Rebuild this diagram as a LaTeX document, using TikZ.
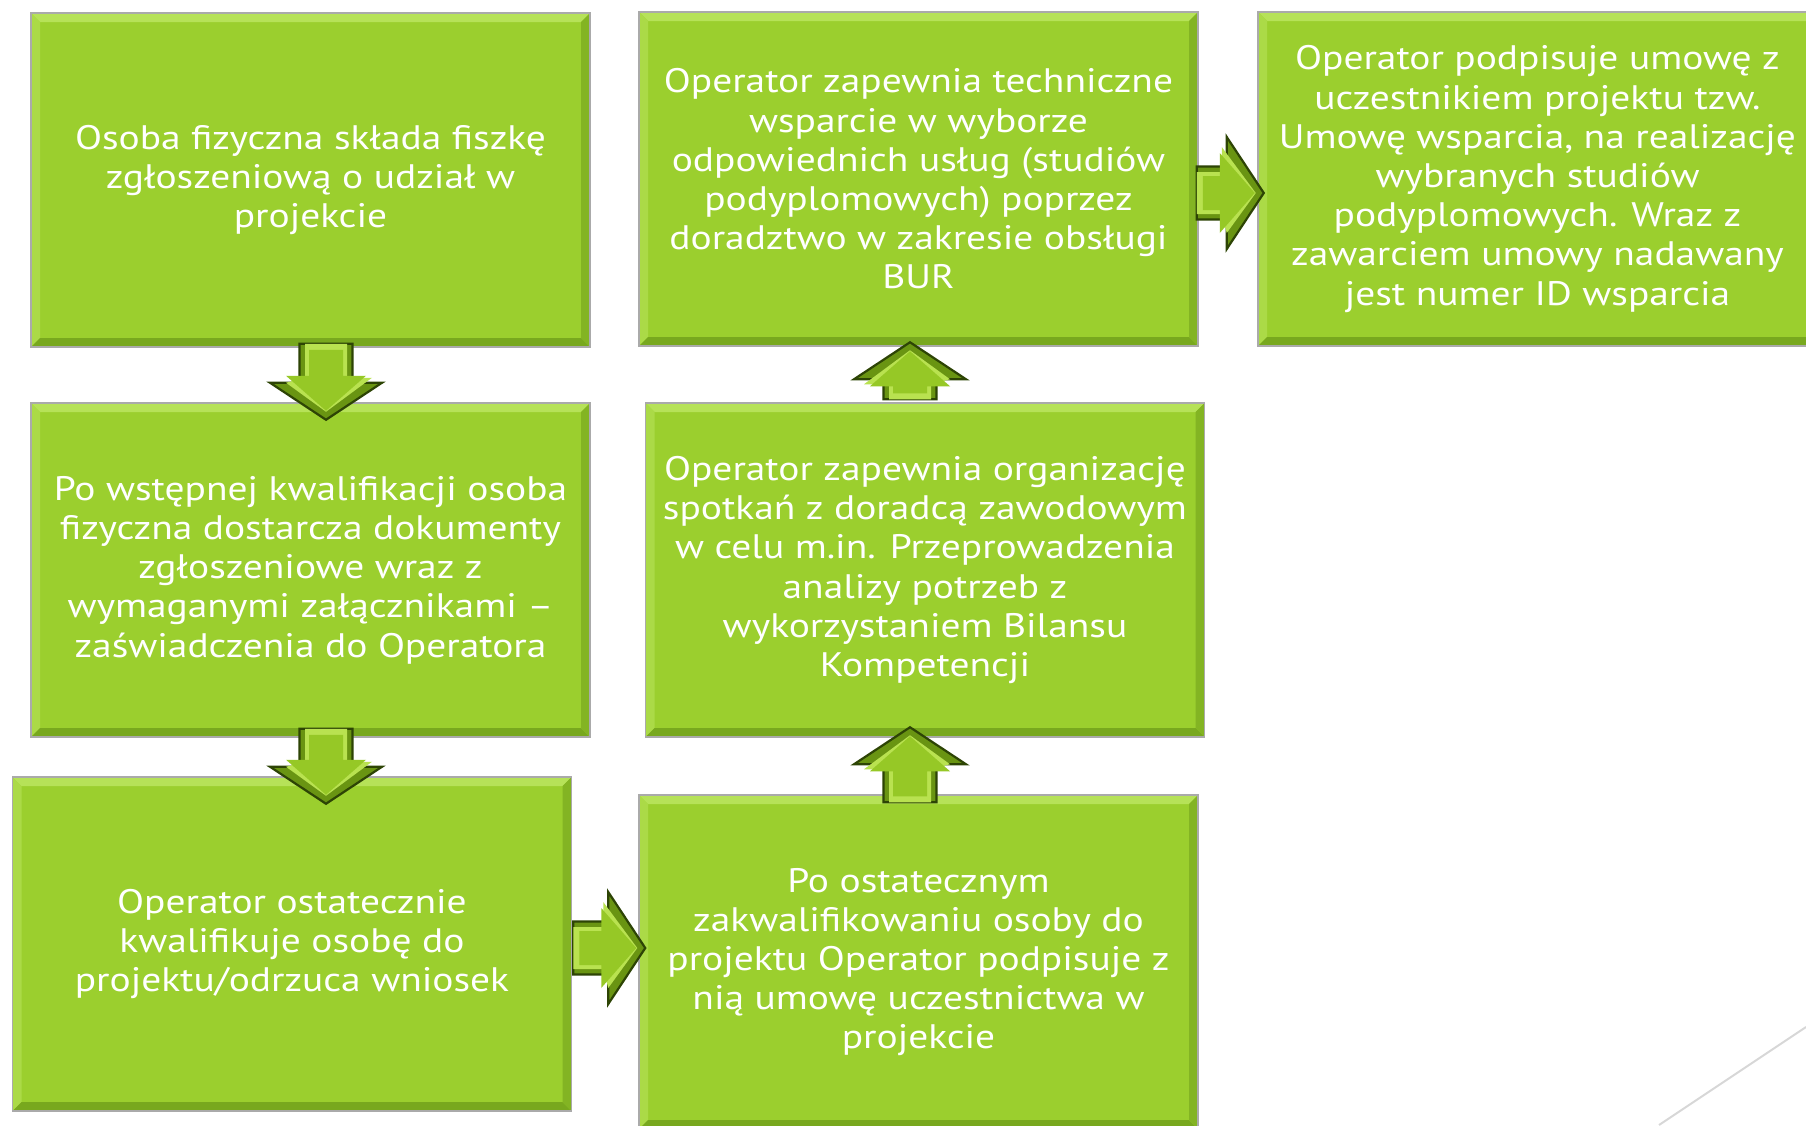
\documentclass[tikz,border=0pt]{standalone}
\usepackage{fontspec}
\setmainfont{PT Sans}[FakeStretch=1.16]
\usetikzlibrary{calc}
\definecolor{boxgreen}{RGB}{155,207,46}
\definecolor{bevlight}{RGB}{182,226,88}
\definecolor{bevdark}{RGB}{120,168,30}
\definecolor{edgegray}{RGB}{170,170,170}
\definecolor{arrowgreen}{RGB}{150,200,38}
\definecolor{arrowmid}{RGB}{105,148,18}
\definecolor{arrowlight}{RGB}{185,226,80}
\definecolor{arrowdark}{RGB}{45,68,5}
\definecolor{linegray}{RGB}{215,215,215}
\tikzset{
  stepbox/.style={rectangle, minimum width=559pt, minimum height=334pt, inner sep=0pt,
    fill=boxgreen, draw=edgegray, line width=1.5pt, text=white, align=center,
    font=\fontsize{34}{39.2}\selectfont,
    path picture={
      \coordinate (nw) at (path picture bounding box.north west);
      \coordinate (ne) at (path picture bounding box.north east);
      \coordinate (sw) at (path picture bounding box.south west);
      \coordinate (se) at (path picture bounding box.south east);
      \fill[bevlight] (nw) -- (ne) -- ($(ne)+(-9pt,-9pt)$) -- ($(nw)+(9pt,-9pt)$) -- cycle;
      \fill[bevlight!60!boxgreen] (nw) -- (sw) -- ($(sw)+(9pt,9pt)$) -- ($(nw)+(9pt,-9pt)$) -- cycle;
      \fill[bevdark] (sw) -- (se) -- ($(se)+(-9pt,9pt)$) -- ($(sw)+(9pt,9pt)$) -- cycle;
      \fill[bevdark!70!boxgreen] (ne) -- (se) -- ($(se)+(-9pt,9pt)$) -- ($(ne)+(-9pt,-9pt)$) -- cycle;
    }},
  pics/barrow/.style={code={
    \filldraw[fill=arrowmid, draw=arrowdark, line width=2.2pt, line join=miter]
      (0,-26.5) -- (#1-37,-26.5) -- (#1-37,-56) -- (#1,0) -- (#1-37,56) -- (#1-37,26.5) -- (0,26.5) -- cycle;
    \fill[arrowlight]
      (0,21) -- (#1-42,21) -- (#1-42,46) -- (#1-8,0) -- (#1-37,-40) -- (#1-42,-21) -- (0,-21) -- cycle;
    \fill[arrowgreen]
      (6,-17) -- (#1-44,-17) -- (#1-44,-40) -- (#1-9,0) -- (#1-44,40) -- (#1-44,17) -- (6,17) -- cycle;
  }}
}
\begin{document}
\begin{tikzpicture}[x=1pt,y=1pt]
\useasboundingbox (0,0) rectangle (1806,-1125);
\clip (0,0) rectangle (1806,-1125);
\fill[white] (0,0) rectangle (1806,-1125);

\node[stepbox] (A) at (310.5,-180) {Osoba fizyczna składa fiszkę\\zgłoszeniową o udział w\\projekcie};
\node[stepbox] (B) at (310.5,-570) {Po wstępnej kwalifikacji osoba\\fizyczna dostarcza dokumenty\\zgłoszeniowe wraz z\\wymaganymi załącznikami –\\zaświadczenia do Operatora};
\node[stepbox] (C) at (292,-944) {Operator ostatecznie\\kwalifikuje osobę do\\projektu/odrzuca wniosek};
\node[stepbox] (D) at (918.5,-962) {Po ostatecznym\\zakwalifikowaniu osoby do\\projektu Operator podpisuje z\\nią umowę uczestnictwa w\\projekcie};
\node[stepbox] (E) at (925,-570) {Operator zapewnia organizację\\spotkań z doradcą zawodowym\\w celu m.in. Przeprowadzenia\\analizy potrzeb z\\wykorzystaniem Bilansu\\Kompetencji};
\node[stepbox] (F) at (918.5,-179) {Operator zapewnia techniczne\\wsparcie w wyborze\\odpowiednich usług (studiów\\podyplomowych) poprzez\\doradztwo w zakresie obsługi\\BUR};
\node[stepbox] (G) at (1537.5,-179) {Operator podpisuje umowę z\\uczestnikiem projektu tzw.\\Umowę wsparcia, na realizację\\wybranych studiów\\podyplomowych. Wraz z\\zawarciem umowy nadawany\\jest numer ID wsparcia};

% block arrows between the steps
\path (A.south) ++(15.5,4) pic[rotate=-90]{barrow=76};
\path (B.south) ++(15.5,9) pic[rotate=-90]{barrow=75};
\path (C.east) ++(1,-4) pic{barrow=72};
\path (D.north) ++(-8.5,-8) pic[rotate=90]{barrow=75};
\path (E.north) ++(-15,3) pic[rotate=90]{barrow=57};
\path (F.east) ++(-2,-14) pic{barrow=67};

% decorative corner line
\coordinate (l1) at (1806,-1027);
\coordinate (l2) at (1659,-1125);
\draw[linegray, line width=2pt] (l1) -- (l2);
\end{tikzpicture}
\end{document}
